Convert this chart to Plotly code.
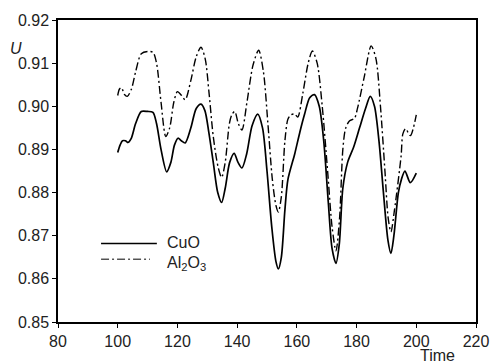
import plotly.graph_objects as go

# CuO (solid)
cuo_t = [100.0, 100.8, 101.6, 102.6, 103.4, 104.5, 106.0, 107.9, 110.0, 111.8, 113.0, 114.5,
         116.4, 117.8, 119.0, 120.2, 121.3, 122.6, 124.5, 126.3, 127.9, 129.2, 130.5, 132.0,
         133.5, 134.8, 136.0, 137.5, 139.0, 140.3, 141.6, 143.2, 145.0, 146.9, 148.5, 150.0,
         151.6, 153.0, 153.8, 154.8, 156.0, 157.0, 159.3, 161.0, 162.6, 164.3, 165.9, 167.5,
         169.0, 170.5, 171.8, 173.1, 174.2, 175.4, 177.0, 179.0, 181.0, 183.0, 184.6, 186.0,
         187.5, 189.0, 190.5, 191.5, 192.5, 194.0, 195.0, 196.2, 198.0, 200.0]
cuo_u = [0.8893, 0.8910, 0.8920, 0.8920, 0.8916, 0.8925, 0.8960, 0.8988, 0.8988, 0.8986, 0.8960, 0.8900,
         0.8848, 0.8870, 0.8910, 0.8926, 0.8920, 0.8915, 0.8950, 0.8995, 0.9005, 0.8990, 0.8940, 0.8870,
         0.8800, 0.8777, 0.8810, 0.8870, 0.8891, 0.8870, 0.8857, 0.8890, 0.8955, 0.8982, 0.8950, 0.8850,
         0.8720, 0.8640, 0.8623, 0.8650, 0.8760, 0.8830, 0.8890, 0.8940, 0.8982, 0.9020, 0.9027, 0.9000,
         0.8920, 0.8780, 0.8670, 0.8636, 0.8680, 0.8810, 0.8870, 0.8905, 0.8950, 0.8995, 0.9023, 0.9000,
         0.8920, 0.8800, 0.8690, 0.8659, 0.8700, 0.8800, 0.8830, 0.8850, 0.8823, 0.8845]

# Al2O3 (dash-dot)
al_t = [100.0, 100.6, 101.3, 102.2, 103.2, 104.6, 106.0, 107.9, 110.0, 111.8, 113.0, 114.5,
        116.1, 117.4, 118.8, 120.0, 121.4, 122.6, 124.5, 126.3, 127.9, 129.3, 130.6, 132.0,
        133.6, 134.8, 136.0, 137.4, 138.2, 139.2, 140.4, 141.6, 143.3, 145.3, 147.2, 148.8,
        150.3, 151.8, 153.0, 153.8, 154.8, 156.0, 157.0, 158.0, 159.3, 160.3, 162.0, 163.8,
        165.2, 166.8, 168.5, 170.3, 171.8, 173.1, 174.3, 175.4, 176.3, 177.6, 179.3, 180.3,
        182.5, 184.9, 186.5, 188.0, 189.5, 190.6, 191.5, 192.7, 194.9, 195.5, 196.4, 198.0, 200.0]
al_u = [0.9025, 0.9040, 0.9043, 0.9028, 0.9023, 0.9040, 0.9080, 0.9122, 0.9127, 0.9125, 0.9100, 0.9010,
        0.8930, 0.8950, 0.9010, 0.9034, 0.9025, 0.9015, 0.9060, 0.9115, 0.9137, 0.9110, 0.9030, 0.8930,
        0.8860, 0.8835, 0.8870, 0.8960, 0.8980, 0.8988, 0.8960, 0.8945, 0.9010, 0.9095, 0.9130, 0.9080,
        0.8960, 0.8830, 0.8770, 0.8755, 0.8790, 0.8920, 0.8970, 0.8980, 0.8982, 0.8975, 0.9030, 0.9100,
        0.9128, 0.9100, 0.9000, 0.8850, 0.8720, 0.8665, 0.8740, 0.8900, 0.8948, 0.8966, 0.8972, 0.8995,
        0.9066, 0.9140, 0.9110, 0.9000, 0.8850, 0.8740, 0.8709, 0.8760, 0.8884, 0.8936, 0.8948, 0.8932, 0.8980]

x_ticks = [80, 100, 120, 140, 160, 180, 200, 220]
y_ticks = [0.85, 0.86, 0.87, 0.88, 0.89, 0.90, 0.91, 0.92]

FONT = "Liberation Sans, Arial, sans-serif"
FS = 16

fig = go.Figure()
fig.add_trace(go.Scatter(x=cuo_t, y=cuo_u, mode="lines", name="CuO",
                         line=dict(color="black", width=1.7, shape="spline", smoothing=0.8)))
fig.add_trace(go.Scatter(x=al_t, y=al_u, mode="lines", name="Al2O3",
                         line=dict(color="black", width=1.4, dash="8px,3px,2px,3px",
                                   shape="spline", smoothing=0.8)))

# legend drawn manually
fig.add_shape(type="line", xref="paper", yref="paper", x0=0.103, x1=0.2365, y0=0.26, y1=0.26,
              line=dict(color="black", width=1.7))
fig.add_shape(type="line", xref="paper", yref="paper", x0=0.103, x1=0.22, y0=0.208, y1=0.208,
              line=dict(color="black", width=1.0, dash="8px,3px,2px,3px"))
fig.add_annotation(xref="paper", yref="paper", x=0.255, y=0.262, text="CuO", showarrow=False,
                   xanchor="left", yanchor="middle", font=dict(family=FONT, size=FS, color="#222"))
fig.add_annotation(xref="paper", yref="paper", x=0.255, y=0.195,
                   text="Al<sub>2</sub>O<sub>3</sub>", showarrow=False,
                   xanchor="left", yanchor="middle", font=dict(family=FONT, size=FS, color="#222"))

fig.add_annotation(xref="paper", yref="paper", x=-0.10, y=0.905, text="<i>U</i>", showarrow=False,
                   xanchor="center", yanchor="middle", font=dict(family=FONT, size=FS, color="#222"))
fig.add_annotation(xref="paper", yref="paper", x=0.909, y=-0.11, text="Time", showarrow=False,
                   xanchor="center", yanchor="middle", font=dict(family=FONT, size=FS, color="#222"))

fig.update_layout(
    width=501, height=363,
    margin=dict(l=58, r=16, t=14, b=41),
    paper_bgcolor="white", plot_bgcolor="white",
    showlegend=False,
    font=dict(family=FONT, size=FS, color="#222"),
)
fig.update_xaxes(range=[80, 220], tickvals=x_ticks, ticktext=[str(v) for v in x_ticks],
                 ticks="outside", ticklen=4, tickcolor="black", showgrid=False, zeroline=False,
                 showline=True, linecolor="black", linewidth=1.5, mirror=True,
                 tickfont=dict(family=FONT, size=FS, color="#222"))
fig.update_yaxes(range=[0.85, 0.92], tickvals=y_ticks, ticktext=[f"{v:.2f}" for v in y_ticks],
                 ticks="outside", ticklen=4, tickcolor="black", showgrid=False, zeroline=False,
                 showline=True, linecolor="black", linewidth=1.5, mirror=True,
                 tickfont=dict(family=FONT, size=FS, color="#222"))

fig.write_html("out.html")
